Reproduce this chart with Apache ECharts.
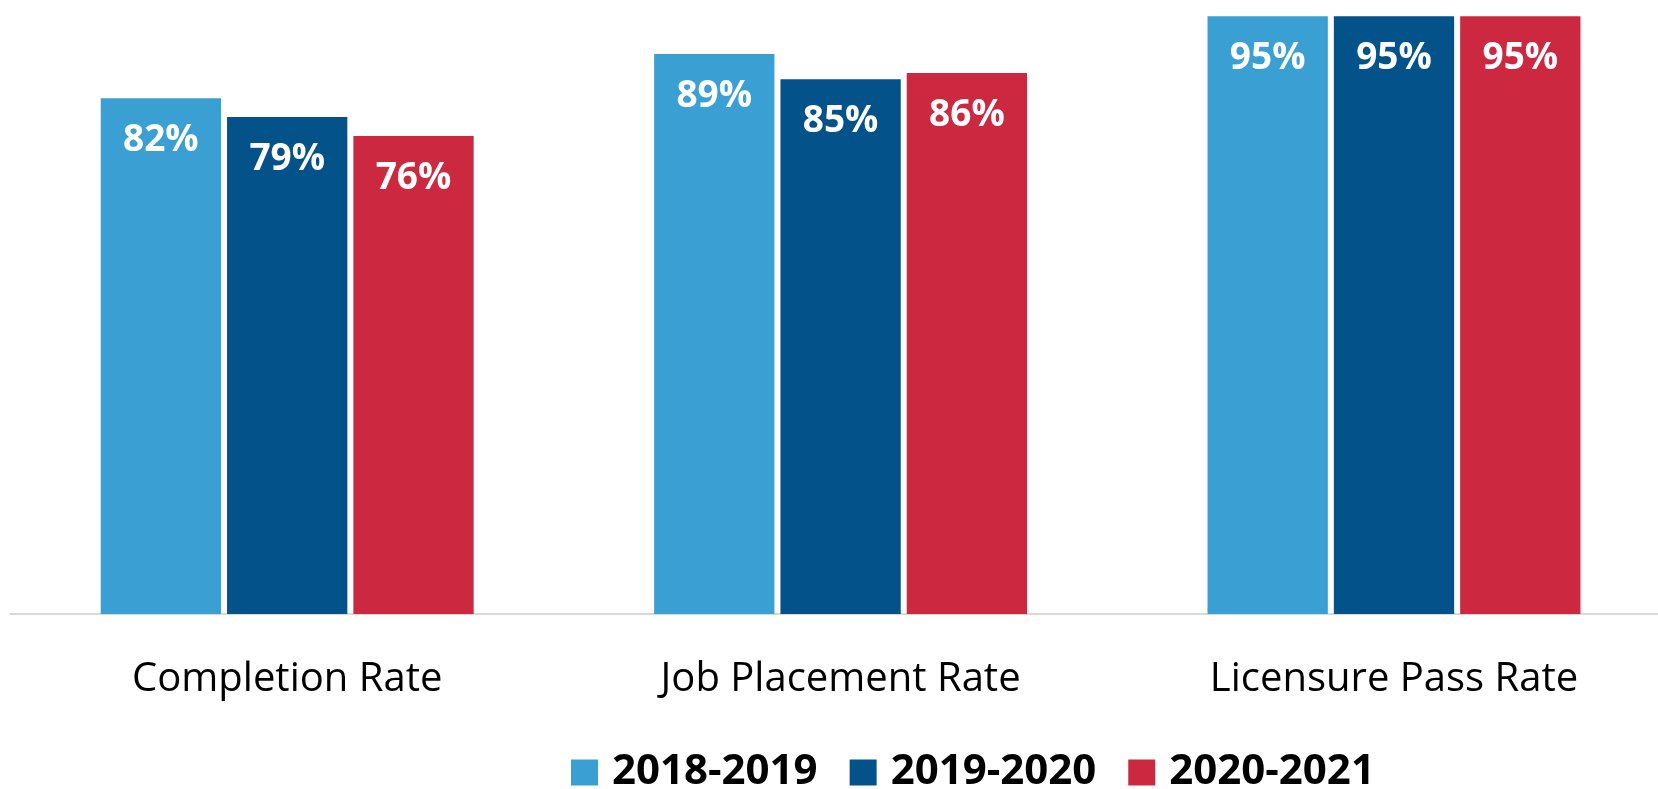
<!DOCTYPE html>
<html>
<head>
<meta charset="utf-8">
<title>Program Outcomes</title>
<script src="https://cdn.jsdelivr.net/npm/echarts@6/dist/echarts.min.js"></script>
<style>
  html, body { margin: 0; padding: 0; background: #ffffff; }
  #chart { width: 1658px; height: 789px; }
</style>
</head>
<body>
<div id="chart"></div>
<script>
// Outcome measures shown along the x axis
const categories = ['Completion Rate', 'Job Placement Rate', 'Licensure Pass Rate'];

// Rates (%) per academic year
const years = ['2018-2019', '2019-2020', '2020-2021'];
const rates2018 = [82, 89, 95];
const rates2019 = [79, 85, 95];
const rates2020 = [76, 86, 95];

const seriesValues = [rates2018, rates2019, rates2020];
const colors = ['#3AA0D3', '#03528A', '#CC2840'];

const FONT = '"Open Sans", "Noto Sans", "DejaVu Sans", sans-serif';

const chart = echarts.init(document.getElementById('chart'), null, { renderer: 'canvas' });

chart.setOption({
  animation: false,
  backgroundColor: '#ffffff',
  // plot area runs slightly past the right edge of the canvas
  grid: {
    left: 10.5, width: 1660.2, top: 0, height: 614,
    containLabel: false,
    outerBoundsMode: 'none'
  },
  legend: {
    data: years,
    left: 571,
    top: 751.5,
    padding: 0,
    itemWidth: 27,
    itemHeight: 26,
    itemGap: 32,
    icon: 'rect',
    textStyle: {
      fontFamily: FONT,
      fontSize: 42,
      lineHeight: 42,
      fontWeight: 'bold',
      color: '#000000',
      padding: [0, 0, 0, 9]
    }
  },
  xAxis: {
    type: 'category',
    data: categories,
    axisLine: { show: true, lineStyle: { color: '#D9D9D9', width: 2 } },
    axisTick: { show: false },
    splitLine: { show: false },
    axisLabel: {
      fontFamily: FONT,
      fontSize: 40,
      lineHeight: 40,
      color: '#000000',
      margin: 46
    }
  },
  yAxis: {
    type: 'value',
    min: 0,
    max: 97.6,
    show: false,
    splitLine: { show: false }
  },
  series: years.map((name, i) => ({
    name: name,
    type: 'bar',
    data: seriesValues[i],
    barWidth: 120.3,
    barGap: '5%',
    itemStyle: { color: colors[i] },
    label: {
      show: true,
      position: 'insideTop',
      distance: 24,
      formatter: '{c}%',
      color: '#ffffff',
      fontFamily: FONT,
      fontSize: 37,
      lineHeight: 37,
      fontWeight: 'bold'
    }
  }))
});
</script>
</body>
</html>
